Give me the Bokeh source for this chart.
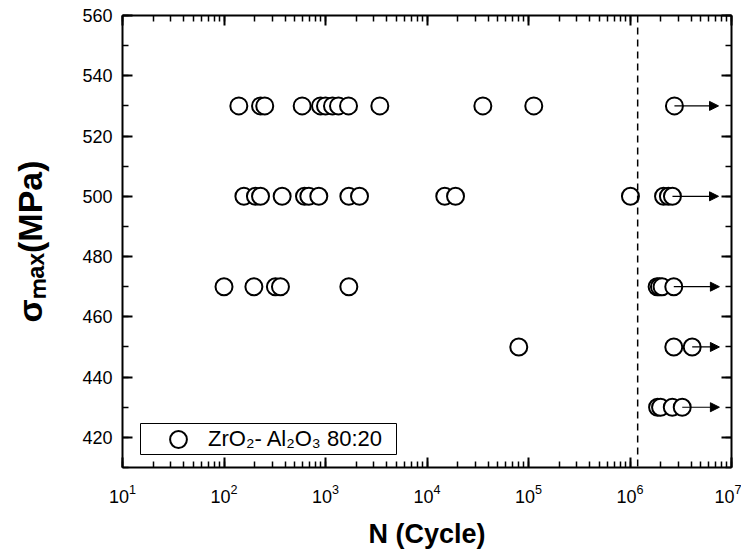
import math
from bokeh.plotting import figure
from bokeh.models import (Range1d, LogAxis, LinearAxis, SingleIntervalTicker, LogTicker,
                          Span, Arrow, NormalHead, ColumnDataSource, Legend, LegendItem,
                          BoxAnnotation)
from bokeh.embed import file_html
from bokeh.resources import INLINE

# ---- data (cycles to failure at each max stress level) ----
levels = [530, 500, 470, 450, 430]
n_530 = [140, 229, 252, 589, 893, 1000, 1172, 1343, 1686, 3430, 35500, 112700, 2.74e6]
n_500 = [157, 204, 229, 374, 621, 685, 859, 1698, 2163, 14960, 19100, 1.01e6, 2.14e6, 2.39e6, 2.62e6]
n_470 = [100, 197, 321, 360, 1698, 1.85e6, 1.95e6, 2.07e6, 2.70e6]
n_450 = [80200, 2.70e6, 4.1e6]
n_430 = [1.87e6, 2.0e6, 2.61e6, 3.27e6]
runout_start = [2.74e6, 2.62e6, 2.70e6, 4.1e6, 3.27e6]
runout_end = [7.45e6, 7.45e6, 7.6e6, 7.6e6, 7.6e6]
runout_limit = 1.19e6
series_label = "ZrO₂- Al₂O₃ 80:20"
x_title = "N (Cycle)"
y_title = "σₘₐₓ(MPa)"

rows = [n_530, n_500, n_470, n_450, n_430]
xs, ys = [], []
for lev, row in zip(levels, rows):
    xs += row
    ys += [lev] * len(row)

FONT = "Liberation Sans"
FL, FT, FR, FB = 122, 15, 731, 467   # frame edges in page pixels

p = figure(width=741, height=551, x_axis_type="log",
           x_range=Range1d(10, 1e7), y_range=Range1d(410, 560),
           output_backend="svg", toolbar_location=None,
           min_border_left=FL, min_border_top=FT, min_border_right=741 - FR,
           min_border_bottom=551 - FB,
           background_fill_color="white", border_fill_color="white")
p.outline_line_color = None
p.grid.visible = False

xticker = LogTicker(num_minor_ticks=10)
yticker = SingleIntervalTicker(interval=20, num_minor_ticks=2)

def style(ax, labels=True):
    ax.axis_line_width = 2
    ax.axis_line_color = "black"
    ax.major_tick_in = 10
    ax.major_tick_out = 0
    ax.minor_tick_in = 6
    ax.minor_tick_out = 0
    ax.major_tick_line_width = 2
    ax.minor_tick_line_width = 1.5
    ax.major_tick_line_color = "black"
    ax.minor_tick_line_color = "black"
    if labels:
        ax.major_label_text_font = FONT
        ax.major_label_text_font_size = "18px"
        ax.major_label_text_color = "black"
    else:
        ax.major_label_text_font_size = "1px"
        ax.major_label_text_alpha = 0
        ax.major_label_standoff = 0

xa = p.xaxis[0]
xa.ticker = xticker
style(xa)
xa.major_label_standoff = 16
xa.axis_label = x_title
xa.axis_label_text_font = FONT
xa.axis_label_text_font_style = "bold"
xa.axis_label_text_font_size = "27px"
xa.axis_label_text_color = "black"
xa.axis_label_standoff = 13

ya = p.yaxis[0]
ya.ticker = yticker
style(ya)
ya.major_label_standoff = 10
ya.axis_label = y_title
ya.axis_label_text_font = FONT
ya.axis_label_text_font_style = "bold"
ya.axis_label_text_font_size = "34px"
ya.axis_label_text_color = "black"
ya.axis_label_standoff = 30

top = LogAxis(ticker=xticker)
style(top, labels=False)
p.add_layout(top, "above")
right = LinearAxis(ticker=yticker)
style(right, labels=False)
p.add_layout(right, "right")

# run-out limit
p.add_layout(Span(location=runout_limit, dimension="height", line_color="black",
                  line_dash="7 5", line_width=1.5))

src = ColumnDataSource(data=dict(x=xs, y=ys))
r = p.scatter("x", "y", source=src, marker="circle", size=17, line_width=2,
              line_color="black", fill_color="white")

asrc = ColumnDataSource(data=dict(xs=runout_start, xe=runout_end, y=levels))
p.add_layout(Arrow(end=NormalHead(size=9, fill_color="black", line_color="black", line_width=1),
                   x_start="xs", y_start="y", x_end="xe", y_end="y", source=asrc,
                   line_color="black", line_width=1.2))

# legend
p.add_layout(BoxAnnotation(left=18, right=274, bottom=13, top=44,
                           left_units="screen", right_units="screen",
                           bottom_units="screen", top_units="screen",
                           fill_color=None, line_color="black", line_alpha=1, line_width=1))
legend = Legend(items=[LegendItem(label=series_label, renderers=[r])],
                location=(35, 7), glyph_width=42, glyph_height=42, padding=0, margin=0,
                spacing=0, label_standoff=9, label_text_font=FONT,
                label_text_font_size="22px", label_text_color="black",
                border_line_color=None, background_fill_alpha=0)
p.add_layout(legend)

open("out.html", "w").write(file_html(p, INLINE))
